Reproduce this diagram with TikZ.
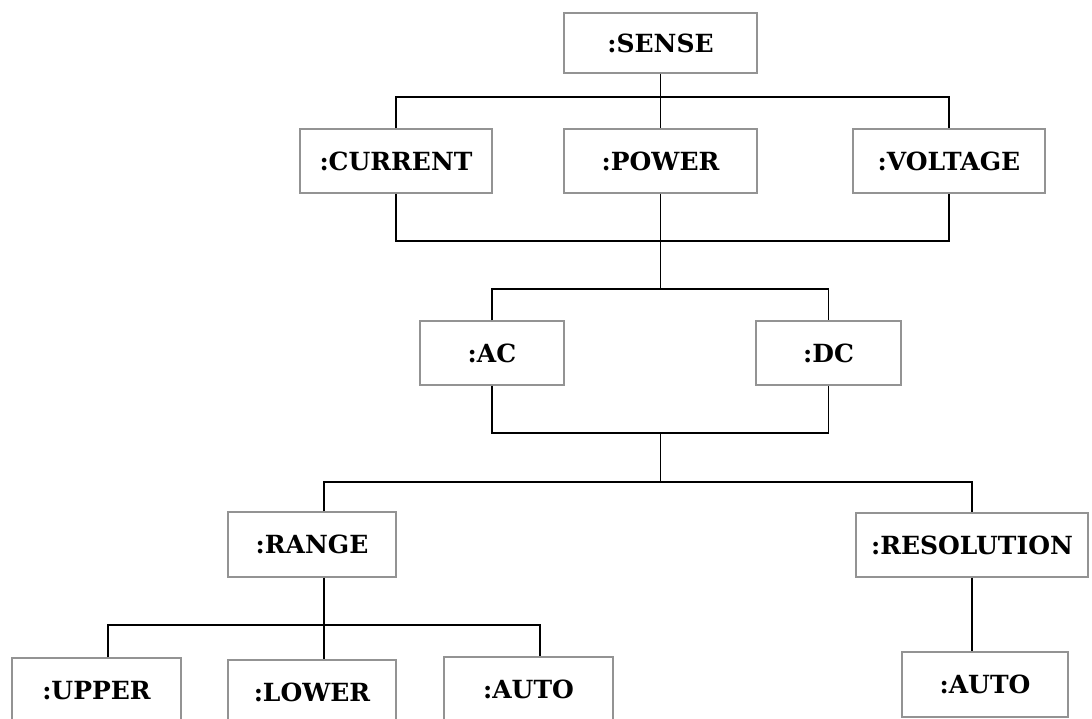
\documentclass[tikz,border=0pt]{standalone}
\usepackage{fontspec}
\setmainfont{DejaVu Serif}
\begin{document}
\begin{tikzpicture}[x=1pt,y=-1pt,
  cmd/.style={draw=gray!85, line width=1.3pt, fill=white, inner sep=0pt,
    minimum height=64pt, font=\fontsize{25}{26}\selectfont\bfseries},
  link/.style={draw=black, line width=1.8pt}]
\useasboundingbox (0,0) rectangle (1092,718);
\clip (0,0) rectangle (1092,718);

% level 0 and 1
\node[cmd, minimum width=193pt, minimum height=60pt] (sense)   at (660.5,43)  {:SENSE};
\node[cmd, minimum width=192pt] (current) at (396,161)   {:CURRENT};
\node[cmd, minimum width=193pt] (power)   at (660.5,161) {:POWER};
\node[cmd, minimum width=192pt] (voltage) at (949,161)   {:VOLTAGE};

% level 2
\node[cmd, minimum width=144pt] (ac) at (492,353)   {:AC};
\node[cmd, minimum width=145pt] (dc) at (828.5,353) {:DC};

% level 3
\node[cmd, minimum width=168pt, minimum height=65pt] (range) at (312,544.5) {:RANGE};
\node[cmd, minimum width=232pt] (resolution) at (972,545) {:RESOLUTION};

% level 4 (runs past the lower edge)
\node[cmd, minimum width=169pt, minimum height=65pt] (upper) at (96.5,690.5) {:UPPER};
\node[cmd, minimum width=168pt, minimum height=65pt] (lower) at (312,692.5) {:LOWER};
\node[cmd, minimum width=169pt, minimum height=65pt] (rauto) at (528.5,689.5) {:AUTO};
\node[cmd, minimum width=166pt, minimum height=65pt] (sauto) at (985,684.5) {:AUTO};

% bus junctions
\coordinate (b1) at (660.5,97);
\coordinate (b2) at (660.5,241);
\coordinate (b3) at (660.5,289);
\coordinate (b4) at (660.5,433);
\coordinate (b5) at (660.5,482);
\coordinate (b6) at (324,625);
\coordinate (xr) at (324,0);
\coordinate (xu) at (108,0);
\coordinate (xa) at (540,0);
\coordinate (xs) at (972,0);

% connectors
\draw[link] (sense.south) -- (power.north);
\draw[link] (current.north) |- (b1) -| (voltage.north);
\draw[link] (current.south) |- (b2) -| (voltage.south);
\draw[link] (power.south) -- (b3);
\draw[link] (ac.north) |- (b3) -| (dc.north);
\draw[link] (ac.south) |- (b4) -| (dc.south);
\draw[link] (b4) -- (b5);
\draw[link] (range.north -| xr) |- (b5) -| (resolution.north -| xs);
\draw[link] (range.south -| xr) -- (lower.north -| xr);
\draw[link] (upper.north -| xu) |- (b6) -| (rauto.north -| xa);
\draw[link] (resolution.south -| xs) -- (sauto.north -| xs);
\end{tikzpicture}
\end{document}
